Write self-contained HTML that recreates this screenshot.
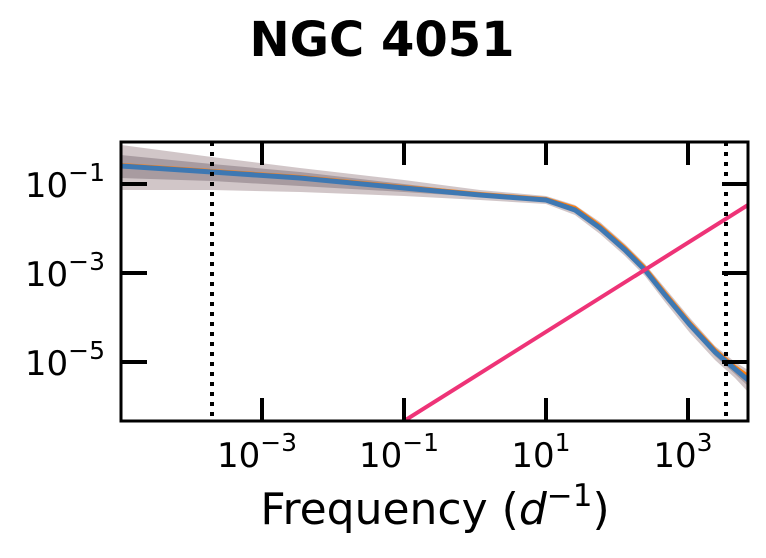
<!DOCTYPE html>
<html><head><style>
body{margin:0;background:#fff;}
</style></head><body>
<svg width="766" height="553" xmlns="http://www.w3.org/2000/svg" font-family="'DejaVu Sans','Liberation Sans',sans-serif">
<rect width="766" height="553" fill="#fff"/>
<text x="382" y="56" text-anchor="middle" font-size="48" font-weight="bold">NGC 4051</text>
<defs><clipPath id="c"><rect x="121" y="142" width="627" height="279"/></clipPath></defs>
<g clip-path="url(#c)">
<path d="M121,145 L212,157 L300,168 L404,180 L480,190 L546,196 L575,205 L600,222 L625,244 L645,264 L665,288 L690,318 L715,346 L735,362 L748,370 L748,392 L735,378 L715,360 L690,333 L665,302 L645,276 L625,256 L600,234 L575,215 L546,204 L480,200 L404,196 L300,192 L212,190 L121,190 Z" fill="#bdaeb0" opacity="0.7"/>
<path d="M121,155 L212,164 L300,172 L404,184 L480,193 L546,199 L575,208 L600,226 L625,248 L645,268 L665,292 L690,322 L715,349 L735,366 L748,375 L748,386 L735,374 L715,356 L690,328 L665,298 L645,272 L625,252 L600,230 L575,212 L546,201 L480,197 L404,192 L300,186 L212,181 L121,178 Z" fill="#8c7e86" opacity="0.6"/>
<polyline points="121,165 212,171 300,177 404,187 480,194 546,199 575,208 600,226 625,248 645,268 665,293 690,323 715,350 735,367 748,376" fill="none" stroke="#ff7f0e" stroke-width="4"/>
<polyline points="121,166 212,172 300,178 404,188 480,195 546,200 575,210 600,228 625,250 645,270 665,295 690,325 715,352 735,369 748,380" fill="none" stroke="#3e78b2" stroke-width="5"/>
<line x1="404" y1="421" x2="748" y2="205" stroke="#ee3377" stroke-width="4"/>
<line x1="212" y1="142" x2="212" y2="421" stroke="#000" stroke-width="4" stroke-dasharray="4,6"/>
<line x1="726" y1="142" x2="726" y2="421" stroke="#000" stroke-width="4" stroke-dasharray="4,6"/>
</g>
<rect x="121" y="142" width="627" height="279" fill="none" stroke="#000" stroke-width="3"/>
<g stroke="#000" stroke-width="4">
<line x1="262" y1="142" x2="262" y2="165"/><line x1="404" y1="142" x2="404" y2="165"/><line x1="546" y1="142" x2="546" y2="165"/><line x1="688" y1="142" x2="688" y2="165"/>
<line x1="262" y1="421" x2="262" y2="398"/><line x1="404" y1="421" x2="404" y2="398"/><line x1="546" y1="421" x2="546" y2="398"/><line x1="688" y1="421" x2="688" y2="398"/>
<line x1="121" y1="184" x2="147" y2="184"/><line x1="121" y1="273" x2="147" y2="273"/><line x1="121" y1="362" x2="147" y2="362"/>
<line x1="748" y1="184" x2="722" y2="184"/><line x1="748" y1="273" x2="722" y2="273"/><line x1="748" y1="362" x2="722" y2="362"/>
</g>
<g font-size="34" text-anchor="middle">
<text x="257" y="467">10<tspan dy="-16" font-size="25">−3</tspan></text>
<text x="399" y="467">10<tspan dy="-16" font-size="25">−1</tspan></text>
<text x="541" y="467">10<tspan dy="-16" font-size="25">1</tspan></text>
<text x="683" y="467">10<tspan dy="-16" font-size="25">3</tspan></text>
</g>
<g font-size="34" text-anchor="end">
<text x="105" y="197">10<tspan dy="-16" font-size="25">−1</tspan></text>
<text x="105" y="286">10<tspan dy="-16" font-size="25">−3</tspan></text>
<text x="105" y="375">10<tspan dy="-16" font-size="25">−5</tspan></text>
</g>
<text x="435" y="524" text-anchor="middle" font-size="44">Frequency (<tspan font-style="italic">d</tspan><tspan dy="-18" font-size="31">−1</tspan><tspan dy="18">)</tspan></text>
</svg>
</body></html>
